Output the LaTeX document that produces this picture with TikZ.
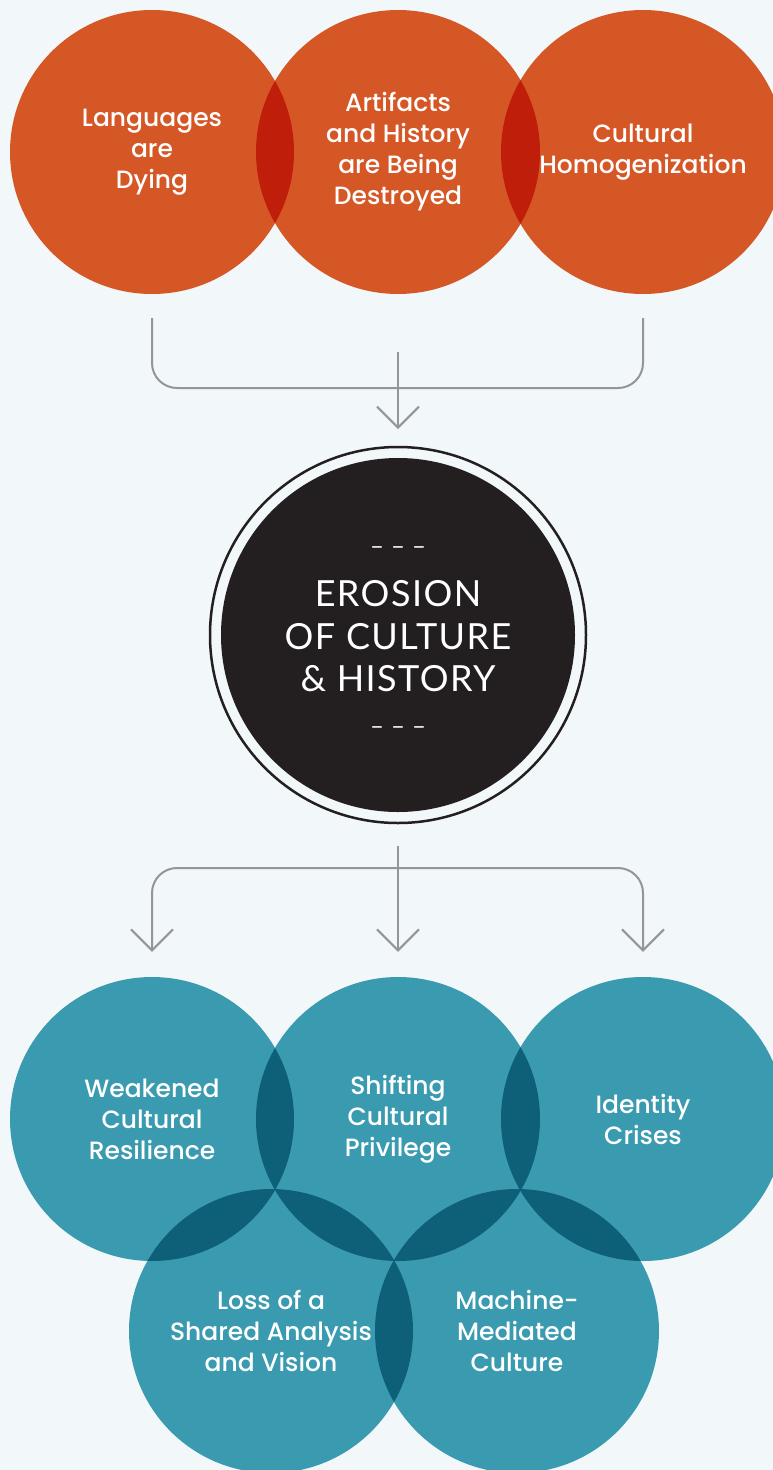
\documentclass[tikz,border=0pt]{standalone}
\usepackage{fontspec}
\setmainfont{Poppins}
\newfontfamily\bodyfont{Poppins Medium}
\newfontfamily\titlefont[LetterSpace=4]{Lato}
\usetikzlibrary{arrows.meta, positioning, backgrounds}
\definecolor{pagebg}{HTML}{F2F7FA}
\definecolor{rust}{HTML}{D65726}
\definecolor{rustdark}{HTML}{BE1E0A}
\definecolor{lagoon}{HTML}{3A9BB0}
\definecolor{lagoondark}{HTML}{0E5F78}
\definecolor{linkgray}{HTML}{939598}
\definecolor{ink}{HTML}{231F20}

\tikzset{
  cause/.style={
    circle, minimum size=284pt, inner sep=0pt,
    text=white, align=center, font=\bodyfont\fontsize{25}{31}\selectfont
  },
  effect/.style={cause},
  core/.style={
    circle, fill=ink, minimum size=354pt, inner sep=0pt, outer sep=11pt,
    text=white, align=center, font=\titlefont\fontsize{36}{42.5}\selectfont
  },
  link/.style={draw=linkgray, line width=2pt, rounded corners=25pt},
  arrow/.style={link, -{Straight Barb[length=21pt, width=42pt]}}
}

\begin{document}
\begin{tikzpicture}[x=1pt, y=-1pt]

  \useasboundingbox (0,0) rectangle (773,1470);

  % ── Causes ────────────────────────────────────────────
  \node[cause] (lang)  at (152,152) {Languages\\are\\Dying};
  \node[cause] (artif) at (398,152) {Artifacts\\and History\\are Being\\Destroyed};
  \node[cause] (homog) at (643,152) {Cultural\\Homogenization};

  % ── Core ──────────────────────────────────────────────
  \node[core] (erosion) at (398,635)
    {\\[-24pt]{\fontsize{24}{24}\selectfont – – –}\\[10pt]
     EROSION\\OF CULTURE\\\& HISTORY\\[0pt]
     {\fontsize{24}{24}\selectfont – – –}};
  \draw[ink, line width=2.5pt] (erosion.center) circle (188pt);

  % ── Effects ───────────────────────────────────────────
  \node[effect] (resil)   at (152,1119) {Weakened\\Cultural\\Resilience};
  \node[effect] (privil)  at (398,1119) {Shifting\\Cultural\\Privilege};
  \node[effect] (ident)   at (643,1119) {Identity\\Crises};
  \node[effect] (vision)  at (271,1331) {Loss of a\\Shared Analysis\\and Vision};
  \node[effect] (machine) at (517,1331) {Machine-\\Mediated\\Culture};

  % ── Discs and overlaps ────────────────────────────────
  \begin{scope}[on background layer]
    \fill[pagebg] (0,0) rectangle (773,1470);
    \foreach \n in {lang,artif,homog}
      \fill[rust] (\n.center) circle (142pt);
    \foreach \a/\b in {lang/artif, artif/homog}{
      \begin{scope}
        \clip (\a.center) circle (142pt);
        \fill[rustdark] (\b.center) circle (142pt);
      \end{scope}
    }
    \foreach \n in {resil,privil,ident,vision,machine}
      \fill[lagoon] (\n.center) circle (142pt);
    \foreach \a/\b in {resil/privil, privil/ident, resil/vision, privil/vision,
                       privil/machine, ident/machine, vision/machine}{
      \begin{scope}
        \clip (\a.center) circle (142pt);
        \fill[lagoondark] (\b.center) circle (142pt);
      \end{scope}
    }
  \end{scope}

  % ── Connectors ────────────────────────────────────────
  \coordinate (merge) at (398,388);
  \draw[link] ([yshift=-24pt]lang.south) |- (merge);
  \draw[link] ([yshift=-24pt]homog.south) |- (merge);
  \draw[arrow] ([yshift=36pt]merge) -- ([yshift=18pt]erosion.north);

  \coordinate (split) at (398,868);
  \draw[arrow] ([yshift=-23pt]erosion.south) -- ([yshift=25pt]privil.north);
  \draw[arrow] (split) -| ([yshift=25pt]resil.north);
  \draw[arrow] (split) -| ([yshift=25pt]ident.north);

\end{tikzpicture}
\end{document}
